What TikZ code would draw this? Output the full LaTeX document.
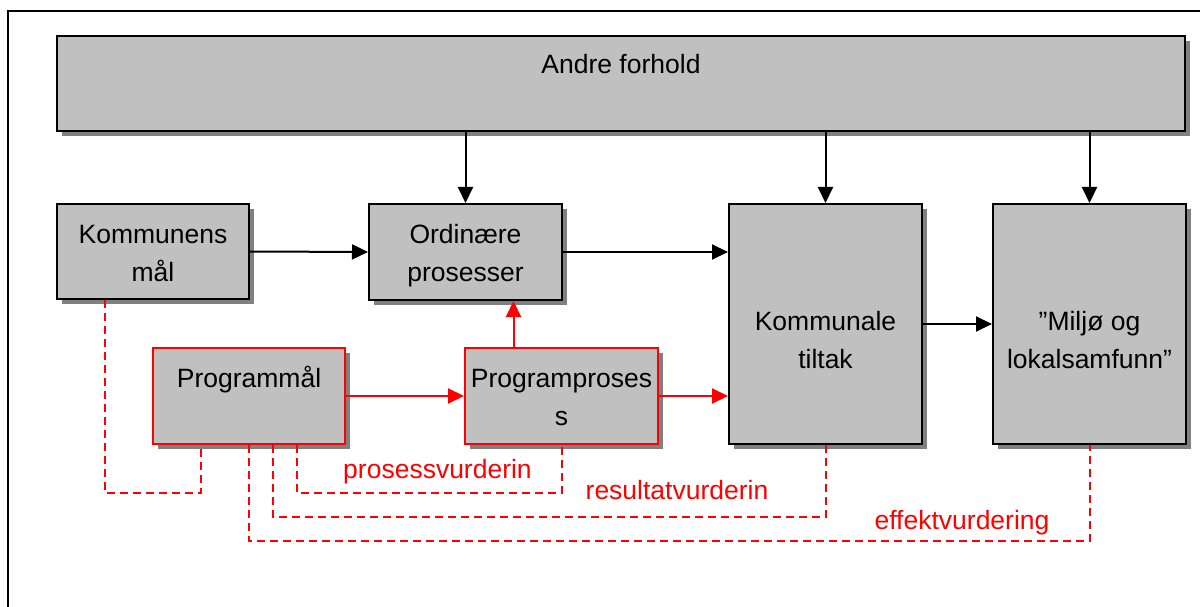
\documentclass[tikz,border=0pt]{standalone}
\usepackage{fontspec}
\setmainfont{Liberation Sans}
\usetikzlibrary{arrows.meta,shadows,calc}
\definecolor{boxgray}{HTML}{C0C0C0}
\definecolor{shadowgray}{HTML}{808080}
\begin{document}
\begin{tikzpicture}[x=1pt,y=-1pt,
  box/.style={draw=black, line width=2pt, fill=boxgray, inner sep=0pt,
    general shadow={fill=shadowgray, shadow xshift=5pt, shadow yshift=-5pt}},
  redbox/.style={box, draw=red},
  txt/.style={font=\fontsize{26.5}{38}\selectfont, align=center, inner sep=0pt, anchor=base},
  lbl/.style={txt, text=red},
  arr/.style={line width=2pt, -{Triangle[length=16pt,width=15pt]}},
  rarr/.style={arr, draw=red, fill=red},
  dsh/.style={draw=red, line width=2pt, dash pattern=on 8pt off 5pt}]
\useasboundingbox (0,0) rectangle (1200,607);
\fill[white] (0,0) rectangle (1200,607);
\draw[line width=2pt] (8,615) -- (8,11) -- (1210,11);

% boxes
\node[box, minimum width=1128pt, minimum height=95pt] (andre) at (621,83.5) {};
\node[box, minimum width=192pt, minimum height=95pt] (komm) at (153,251.5) {};
\node[box, minimum width=193pt, minimum height=96pt] (ord) at (465.5,252) {};
\node[box, minimum width=193pt, minimum height=240pt] (ktilt) at (825.5,324) {};
\node[box, minimum width=193pt, minimum height=240pt] (milj) at (1089.5,324) {};
\node[redbox, minimum width=192pt, minimum height=96pt] (pmal) at (249,396) {};
\node[redbox, minimum width=193pt, minimum height=96pt] (ppros) at (561.5,396) {};

% texts (base anchor = baseline of last line)
\node[txt] (tandre) at (621,74) {Andre forhold};
\node[txt] (tkomm) at (153,281) {Kommunens\\mål};
\node[txt] (tord) at (465.5,281) {Ordinære\\prosesser};
\node[txt] (tktilt) at (825.5,368) {Kommunale\\tiltak};
\node[txt] (tmilj) at (1089.5,368) {”Miljø og\\lokalsamfunn”};
\node[txt] (tpmal) at (249,387) {Programmål};
\node[txt] (tppros) at (561.5,425) {Programproses\\s};

% black arrows
\draw[arr] (andre.south -| ord.north) -- (ord.north);
\draw[arr] (andre.south -| ktilt.north) -- (ktilt.north);
\draw[arr] (andre.south -| milj.north) -- (milj.north);
\draw[arr] (komm.east) -- (ord.west);
\draw[arr] (ord.east) -- (ord.east -| ktilt.west);
\draw[arr] (ktilt.east) -- (milj.west);

% red arrows
\coordinate (mid) at ($(ppros.north west)!0.5!(ord.south east)$);
\draw[rarr] (pmal.east) -- (ppros.west);
\draw[rarr] (ppros.east) -- (ppros.east -| ktilt.west);
\draw[rarr] (mid |- ppros.north) -- (mid |- ord.south);

% dashed evaluation lines
\draw[dsh] ([xshift=-48pt]komm.south) -- ++(0,193) -| ([xshift=-48pt]pmal.south);
\draw[dsh] ([xshift=48pt]pmal.south) -- ++(0,48) -| (ppros.south);
\draw[dsh] ([xshift=24pt]pmal.south) -- ++(0,72) -| (ktilt.south);
\draw[dsh] (pmal.south) -- ++(0,96) -| (milj.south);

% labels
\node[lbl] (lpros) at (437.5,478) {prosessvurderin};
\node[lbl] (lres) at (677,499) {resultatvurderin};
\node[lbl] (leff) at (962,529) {effektvurdering};
\end{tikzpicture}
\end{document}
